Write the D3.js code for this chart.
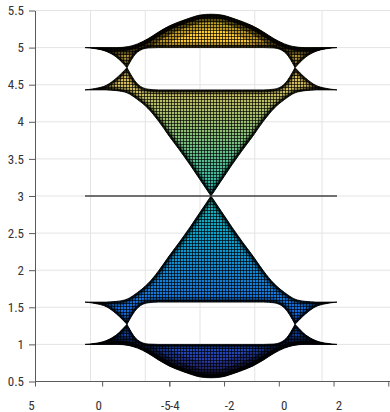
<!DOCTYPE html>
<html><head><meta charset="utf-8">
<script src="https://cdn.jsdelivr.net/npm/d3@7"></script>
<style>
html,body{margin:0;padding:0;background:#fff;}
svg{display:block;}
text{font-family:"Liberation Sans Narrow","Roboto Condensed","Liberation Sans",Arial,sans-serif;}
</style></head><body>
<svg id="chart" width="390" height="412"></svg>
<script>
// ---------- data ----------
const kGrid = [-3,-2.75,-2.5,-2.25,-2,-1.75,-1.5,-1.25,-1,-0.75,-0.5,-0.25,0,0.25,0.5,0.75,1,1.25,1.5,1.75,2,2.25,2.5,2.75,3];
const band1Top = [5.00,5.00,5.00,5.00,5.01,5.05,5.12,5.21,5.29,5.35,5.40,5.44,5.45,5.44,5.40,5.35,5.29,5.21,5.12,5.05,5.01,5.00,5.00,5.00,5.00];
const band1Bot = [5.00,4.985,4.95,4.87,4.73,4.94,4.995,5.00,5.00,5.00,5.00,5.00,5.00,5.00,5.00,5.00,5.00,5.00,4.995,4.94,4.73,4.87,4.95,4.985,5.00];
const band2Top = [4.43,4.45,4.49,4.59,4.73,4.51,4.44,4.43,4.43,4.43,4.43,4.43,4.43,4.43,4.43,4.43,4.43,4.43,4.44,4.51,4.73,4.59,4.49,4.45,4.43];
const band2Bot = [4.43,4.43,4.43,4.42,4.39,4.30,4.18,4.01,3.81,3.62,3.42,3.21,3.00,3.21,3.42,3.62,3.81,4.01,4.18,4.30,4.39,4.42,4.43,4.43,4.43];
const flatBand = [3,3,3,3,3,3,3,3,3,3,3,3,3,3,3,3,3,3,3,3,3,3,3,3,3];
const band4Top = [1.57,1.57,1.57,1.58,1.61,1.70,1.82,1.99,2.19,2.38,2.58,2.79,3.00,2.79,2.58,2.38,2.19,1.99,1.82,1.70,1.61,1.58,1.57,1.57,1.57];
const band4Bot = [1.57,1.55,1.51,1.41,1.27,1.49,1.56,1.57,1.57,1.57,1.57,1.57,1.57,1.57,1.57,1.57,1.57,1.57,1.56,1.49,1.27,1.41,1.51,1.55,1.57];
const band5Top = [1.00,1.015,1.05,1.13,1.27,1.06,1.005,1.00,1.00,1.00,1.00,1.00,1.00,1.00,1.00,1.00,1.00,1.00,1.005,1.06,1.27,1.13,1.05,1.015,1.00];
const band5Bot = [1.00,1.00,1.00,1.00,0.99,0.95,0.88,0.79,0.71,0.65,0.60,0.56,0.55,0.56,0.60,0.65,0.71,0.79,0.88,0.95,0.99,1.00,1.00,1.00,1.00];
const zTicks = [0.5,1,1.5,2,2.5,3,3.5,4,4.5,5,5.5];
const yAxisTicks = [5,0,-5];
const xAxisTicks = [-4,-2,0,2,4];
const backGridX = [-4,-2,0,2];
const backGridY = [0];
const colorLimits = [0.55,5.8];

// ---------- scales ----------
const W = 390, H = 412;
const kScale = d3.scaleLinear().domain([-3,3]).range([85,337]);
const eScale = d3.scaleLinear().domain([0.5,5.5]).range([381.5,10.5]);
const frontY = d3.scaleLinear().domain([5,-5]).range([35,169.3]);
const frontX = d3.scaleLinear().domain([-4,4]).range([169.3,388.3]);
const backX = d3.scaleLinear().domain([-4,4]).range([90.5,309.5]);
const backY = d3.scaleLinear().domain([5,-5]).range([255,389]);

const svg = d3.select("#chart");
const defs = svg.append("defs");

// parula colormap gradient (by height)
const parula = ["#352a87","#0f5cdd","#1481d6","#06a4ca","#2eb7a4","#87bf77","#d1bb59","#fec832","#f9fb0e"];
const grad = defs.append("linearGradient").attr("id","parula").attr("gradientUnits","userSpaceOnUse")
  .attr("x1",0).attr("x2",0).attr("y1",eScale(colorLimits[0])).attr("y2",eScale(colorLimits[1]));
parula.forEach((c,i)=>grad.append("stop").attr("offset",i/(parula.length-1)).attr("stop-color",c));

// mesh texture
const pat = defs.append("pattern").attr("id","mesh").attr("patternUnits","userSpaceOnUse").attr("width",3).attr("height",3);
pat.append("path").attr("d","M0,0.5H3M0.5,0V3").attr("stroke","#000").attr("stroke-width",1).attr("stroke-opacity",0.68);

// ---------- grid ----------
const grid = svg.append("g").attr("stroke","#e4e4e4").attr("stroke-width",1);
grid.selectAll(".hg").data(zTicks).join("line")
  .attr("x1",frontY(5)).attr("x2",W).attr("y1",d=>eScale(d)).attr("y2",d=>eScale(d));
grid.selectAll(".vx").data(backGridX).join("line")
  .attr("x1",d=>backX(d)).attr("x2",d=>backX(d)).attr("y1",eScale(5.5)).attr("y2",eScale(0.5));
grid.selectAll(".vy").data(backGridY).join("line")
  .attr("x1",d=>backY(d)).attr("x2",d=>backY(d)).attr("y1",eScale(5.5)).attr("y2",eScale(0.5));

// ---------- bands ----------
const lineGen = d3.line().curve(d3.curveMonotoneX);
function curvePath(pts, cusps){
  const br = [0, ...cusps.filter(i=>i>0&&i<pts.length-1).sort((a,b)=>a-b), pts.length-1];
  let d = "";
  for(let i=0;i<br.length-1;i++){
    const s = lineGen(pts.slice(br[i], br[i+1]+1));
    d += (i===0 ? s : s.replace(/^M/,"L"));
  }
  return d;
}
function bandPaths(top, bot, topCuspK, botCuspK){
  const n = kGrid.length;
  const tp = kGrid.map((k,i)=>[kScale(k), eScale(top[i])]);
  const bp = kGrid.map((k,i)=>[kScale(k), eScale(bot[i])]).reverse();
  const tc = topCuspK.map(k=>kGrid.indexOf(k));
  const bc = botCuspK.map(k=>n-1-kGrid.indexOf(k));
  const topD = curvePath(tp, tc);
  const botD = curvePath(bp, bc);
  return {topD, botD, poly: topD + botD.replace(/^M/,"L") + "Z"};
}
const heavy = [{w:30,o:0.25},{w:16,o:0.5},{w:8,o:0.9}];
const normal = [{w:9,o:0.3},{w:4.5,o:0.75}];
const bands = [
  {top:band1Top, bot:band1Bot, tc:[], bc:[-2,2], hTop:true},
  {top:band2Top, bot:band2Bot, tc:[-2,2], bc:[0]},
  {top:band4Top, bot:band4Bot, tc:[0], bc:[-2,2]},
  {top:band5Top, bot:band5Bot, tc:[-2,2], bc:[], hBot:true}
];
bands.forEach((b,i)=>{
  const p = bandPaths(b.top, b.bot, b.tc, b.bc);
  defs.append("clipPath").attr("id","clip"+i).append("path").attr("d",p.poly);
  const g = svg.append("g");
  g.append("path").attr("d",p.poly).attr("fill","url(#parula)");
  g.append("path").attr("d",p.poly).attr("fill","url(#mesh)");
  const eg = g.append("g").attr("clip-path",`url(#clip${i})`).attr("fill","none")
    .attr("stroke","#000").attr("stroke-linejoin","round");
  (b.hTop?heavy:normal).forEach(s=>eg.append("path").attr("d",p.topD).attr("stroke-width",s.w).attr("stroke-opacity",s.o));
  (b.hBot?heavy:normal).forEach(s=>eg.append("path").attr("d",p.botD).attr("stroke-width",s.w).attr("stroke-opacity",s.o));
  g.append("path").attr("d",p.poly).attr("fill","none").attr("stroke","#000").attr("stroke-width",0.8);
});

// flat band
svg.append("path")
  .attr("d", d3.line()(kGrid.map((k,i)=>[kScale(k), eScale(flatBand[i])])))
  .attr("fill","none").attr("stroke","#444").attr("stroke-width",1.5);

// ---------- axes ----------
const axisColor = "#5a5a5a", textColor = "#333";
const gl = svg.append("g").attr("transform",`translate(${frontY(5)},0)`)
  .call(d3.axisLeft(eScale).tickValues(zTicks).tickSize(6).tickSizeOuter(0).tickPadding(5).tickFormat(d=>String(d)));
const g1 = svg.append("g").attr("transform",`translate(0,${eScale(0.5)})`)
  .call(d3.axisBottom(frontY).tickValues(yAxisTicks).tickSize(5).tickSizeOuter(0).tickFormat(d=>String(d)));
const g2 = svg.append("g").attr("transform",`translate(0,${eScale(0.5)})`)
  .call(d3.axisBottom(frontX).tickValues(xAxisTicks).tickSize(5).tickSizeOuter(0).tickFormat(d=>String(d)));
g1.select(".domain").remove();
g2.select(".domain").remove();
svg.append("line").attr("x1",frontY(5)).attr("x2",W).attr("y1",eScale(0.5)).attr("y2",eScale(0.5))
  .attr("stroke",axisColor).attr("stroke-width",1);
[gl,g1,g2].forEach(g=>{
  g.selectAll(".domain,.tick line").attr("stroke",axisColor);
  g.selectAll("text").attr("fill",textColor).style("font-size","13px");
});
g1.selectAll("text").attr("y",28).attr("dy",0).attr("dx",-4);
g2.selectAll("text").attr("y",28).attr("dy",0).attr("dx",5);
</script>
</body></html>
